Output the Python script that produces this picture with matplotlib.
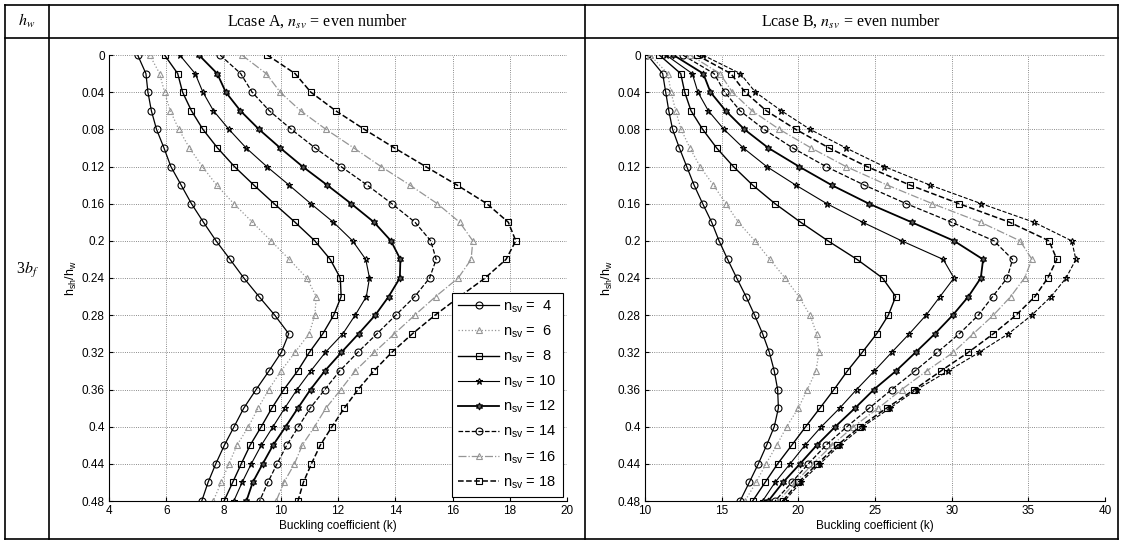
import matplotlib
matplotlib.use("Agg")
import matplotlib.pyplot as plt
from matplotlib.lines import Line2D

# ---- data ----
h_ratio = [0.00, 0.02, 0.04, 0.06, 0.08, 0.10, 0.12, 0.14, 0.16, 0.18, 0.20, 0.22, 0.24,
           0.26, 0.28, 0.30, 0.32, 0.34, 0.36, 0.38, 0.40, 0.42, 0.44, 0.46, 0.48]

nsv_labels = [4, 6, 8, 10, 12, 14, 16, 18, 20]

# Lcase A
k_a_4 = [5.00, 5.29, 5.36, 5.48, 5.66, 5.92, 6.16, 6.52, 6.88, 7.30, 7.74, 8.23, 8.71,
         9.24, 9.79, 10.28, 10.02, 9.59, 9.14, 8.71, 8.37, 8.03, 7.73, 7.46, 7.24]
k_a_6 = [5.42, 5.77, 5.94, 6.14, 6.44, 6.81, 7.26, 7.76, 8.36, 9.01, 9.66, 10.30, 10.91,
         11.24, 11.19, 10.99, 10.50, 10.01, 9.58, 9.21, 8.87, 8.47, 8.19, 7.92, 7.64]
k_a_8 = [5.94, 6.40, 6.57, 6.88, 7.28, 7.79, 8.38, 9.06, 9.77, 10.50, 11.19, 11.73, 12.08,
         12.11, 11.85, 11.47, 11.00, 10.59, 10.11, 9.69, 9.32, 8.93, 8.62, 8.32, 8.02]
k_a_10 = [6.47, 7.01, 7.28, 7.65, 8.19, 8.79, 9.51, 10.29, 11.05, 11.84, 12.51, 12.97, 13.10,
          12.99, 12.60, 12.17, 11.56, 11.05, 10.57, 10.14, 9.73, 9.32, 8.97, 8.65, 8.36]
k_a_12 = [7.14, 7.78, 8.08, 8.59, 9.24, 9.98, 10.76, 11.62, 12.46, 13.26, 13.85, 14.18, 14.16,
          13.77, 13.30, 12.72, 12.12, 11.54, 11.04, 10.60, 10.17, 9.73, 9.37, 9.02, 8.80]
k_a_14 = [7.88, 8.60, 9.00, 9.60, 10.37, 11.20, 12.10, 13.02, 13.88, 14.69, 15.24, 15.43, 15.20,
          14.68, 14.02, 13.36, 12.69, 12.06, 11.54, 11.03, 10.62, 10.21, 9.87, 9.55, 9.26]
k_a_16 = [8.64, 9.49, 9.98, 10.69, 11.58, 12.55, 13.50, 14.51, 15.47, 16.25, 16.71, 16.65, 16.20,
          15.41, 14.68, 13.97, 13.27, 12.60, 12.10, 11.58, 11.18, 10.75, 10.48, 10.11, 9.84]
k_a_18 = [9.53, 10.50, 11.05, 11.92, 12.92, 13.97, 15.06, 16.16, 17.20, 17.95, 18.21, 17.87, 17.14,
          16.25, 15.39, 14.60, 13.88, 13.25, 12.70, 12.22, 11.79, 11.38, 11.07, 10.79, 10.60]

# Lcase B
k_b_4 = [10.15, 11.15, 11.35, 11.55, 11.80, 12.24, 12.72, 13.20, 13.76, 14.35, 14.83, 15.39, 15.98,
         16.59, 17.15, 17.67, 18.11, 18.43, 18.65, 18.70, 18.43, 17.93, 17.39, 16.80, 16.20]
k_b_6 = [10.33, 11.48, 11.70, 12.00, 12.35, 12.93, 13.59, 14.46, 15.28, 16.09, 17.17, 18.15, 19.13,
         20.04, 20.76, 21.20, 21.35, 21.15, 20.59, 20.00, 19.24, 18.59, 17.89, 17.24, 16.52]
k_b_8 = [10.93, 12.33, 12.59, 13.00, 13.76, 14.67, 15.76, 17.02, 18.48, 20.15, 21.93, 23.83, 25.49,
         26.35, 25.87, 25.11, 24.17, 23.20, 22.33, 21.41, 20.48, 19.57, 18.65, 17.83, 17.02]
k_b_10 = [11.37, 13.08, 13.45, 14.13, 15.15, 16.41, 17.93, 19.83, 21.86, 24.20, 26.74, 29.45, 30.15,
          29.24, 28.33, 27.24, 26.09, 24.96, 23.80, 22.70, 21.50, 20.43, 19.46, 18.48, 17.67]
k_b_12 = [11.85, 13.80, 14.27, 15.26, 16.48, 18.04, 20.04, 22.17, 24.60, 27.39, 30.15, 32.05, 31.90,
          31.09, 30.07, 28.91, 27.65, 26.37, 24.93, 23.70, 22.41, 21.20, 20.11, 19.00, 18.04]
k_b_14 = [12.46, 14.50, 15.20, 16.20, 17.76, 19.63, 21.80, 24.30, 27.04, 30.00, 32.76, 33.97, 33.62,
          32.67, 31.74, 30.50, 29.07, 27.61, 26.09, 24.63, 23.17, 21.80, 20.65, 19.57, 18.48]
k_b_16 = [12.94, 14.89, 15.70, 16.98, 18.76, 20.83, 23.10, 25.80, 28.74, 31.89, 34.46, 35.24, 34.75,
          33.85, 32.72, 31.41, 30.11, 28.37, 26.74, 25.22, 23.59, 22.20, 20.95, 19.80, 18.70]
k_b_18 = [13.37, 15.60, 16.53, 17.91, 19.83, 22.00, 24.46, 27.28, 30.48, 33.78, 36.35, 36.86, 36.27,
          35.43, 34.20, 32.72, 31.09, 29.30, 27.57, 25.76, 24.02, 22.54, 21.24, 20.00, 18.98]
k_b_20 = [13.76, 16.22, 17.20, 18.89, 20.76, 23.10, 25.59, 28.59, 31.93, 35.37, 37.83, 38.10, 37.46,
          36.48, 35.22, 33.70, 31.80, 29.78, 27.72, 25.98, 24.20, 22.70, 21.40, 20.15, 19.10]

series_a = [k_a_4, k_a_6, k_a_8, k_a_10, k_a_12, k_a_14, k_a_16, k_a_18]
series_b = [k_b_4, k_b_6, k_b_8, k_b_10, k_b_12, k_b_14, k_b_16, k_b_18, k_b_20]

# ---- styles (one per n_sv) ----
GRAY = "#959595"
hexagram = (6, 1, 0)
styles = [
    dict(color="k", ls="-", marker="o", lw=0.9, mfc="none"),
    dict(color=GRAY, ls=":", marker="^", lw=0.9, mfc="none"),
    dict(color="k", ls="-", marker="s", lw=1.0, mfc="none"),
    dict(color="k", ls="-", marker="*", lw=0.8, mfc="none"),
    dict(color="k", ls="-", marker=hexagram, lw=1.3, mfc="0.35"),
    dict(color="k", ls="--", marker="o", lw=0.9, mfc="none"),
    dict(color=GRAY, ls="-.", marker="^", lw=0.9, mfc="none"),
    dict(color="k", ls="--", marker="s", lw=1.1, mfc="none"),
    dict(color="k", ls="--", marker="*", lw=0.8, mfc="none"),
]

W, H = 1121, 542
SANS = "Liberation Sans"
SERIF = "Liberation Serif"
plt.rcParams["font.family"] = SANS
plt.rcParams["mathtext.fontset"] = "custom"
plt.rcParams["mathtext.rm"] = SANS
plt.rcParams["mathtext.it"] = SANS + ":italic"

fig = plt.figure(figsize=(W / 100, H / 100), dpi=100, facecolor="white")


def fx(px):
    return px / W


def fy(py):
    return 1 - py / H


def draw_panel(rect, series, xlim, xticks, legend=False):
    ax = fig.add_axes(rect)
    for vals, st, n in zip(series, styles, nsv_labels):
        ax.plot(vals, h_ratio, color=st["color"], ls=st["ls"], lw=st["lw"],
                marker=st["marker"], ms=5, mfc=st["mfc"], mec=st["color"], mew=0.8,
                label=r"n$_{\mathrm{sv}}$ = %2d" % n)
    ax.set_xlim(*xlim)
    ax.set_ylim(0.48, 0)
    ax.set_xticks(xticks)
    ax.set_yticks([0, 0.04, 0.08, 0.12, 0.16, 0.2, 0.24, 0.28, 0.32, 0.36, 0.4, 0.44, 0.48])
    ax.set_yticklabels(["0", "0.04", "0.08", "0.12", "0.16", "0.2", "0.24", "0.28",
                        "0.32", "0.36", "0.4", "0.44", "0.48"])
    ax.grid(True, ls=":", color="#666666", lw=0.6)
    ax.spines["top"].set_visible(False)
    ax.spines["right"].set_visible(False)
    ax.tick_params(direction="in", length=3, labelsize=8.5, pad=3)
    ax.set_xlabel("Buckling coefficient (k)", fontsize=8.5, labelpad=2)
    ax.set_ylabel(r"h$_{\mathrm{sh}}$/h$_{\mathrm{w}}$", fontsize=9, labelpad=2)
    if legend:
        leg = ax.legend(loc="lower right", bbox_to_anchor=(1.0, 0.0), fontsize=10.5,
                        handlelength=2.8, labelspacing=0.6, borderpad=0.4,
                        handletextpad=0.3, fancybox=False, framealpha=1,
                        edgecolor="k", borderaxespad=0.3)
        leg.get_frame().set_linewidth(0.8)
    return ax


# left panel: Lcase A
draw_panel([fx(109), 1 - 501 / H, fx(567) - fx(109), (501 - 55) / H],
           series_a, (4, 20), [4, 6, 8, 10, 12, 14, 16, 18, 20], legend=True)
# right panel: Lcase B
draw_panel([fx(645), 1 - 501 / H, fx(1105) - fx(645), (501 - 55) / H],
           series_b, (10, 40), [10, 15, 20, 25, 30, 35, 40])

# ---- table frame ----
lines = [
    ((5, 1118), (5, 5)), ((5, 1118), (539, 539)),
    ((5, 5), (5, 539)), ((1118, 1118), (5, 539)),
    ((5, 1118), (38, 38)), ((49, 49), (5, 539)), ((585, 585), (5, 539)),
]
for xs, ys in lines:
    fig.add_artist(Line2D([fx(xs[0]), fx(xs[1])], [fy(ys[0]), fy(ys[1])],
                          transform=fig.transFigure, color="k", lw=1.2))

head = dict(fontsize=11.5, family=SERIF, math_fontfamily="stix", va="center", ha="center")
fig.text(fx(27), fy(21), r"$h_w$", **head)
fig.text(fx(317), fy(21), r"Lcase A, $n_{sv}$ = even number", **head)
fig.text(fx(851), fy(21), r"Lcase B, $n_{sv}$ = even number", **head)
fig.text(fx(27), fy(270), r"3$b_f$", **head)

fig.savefig("out.png", dpi=100, facecolor="white")
